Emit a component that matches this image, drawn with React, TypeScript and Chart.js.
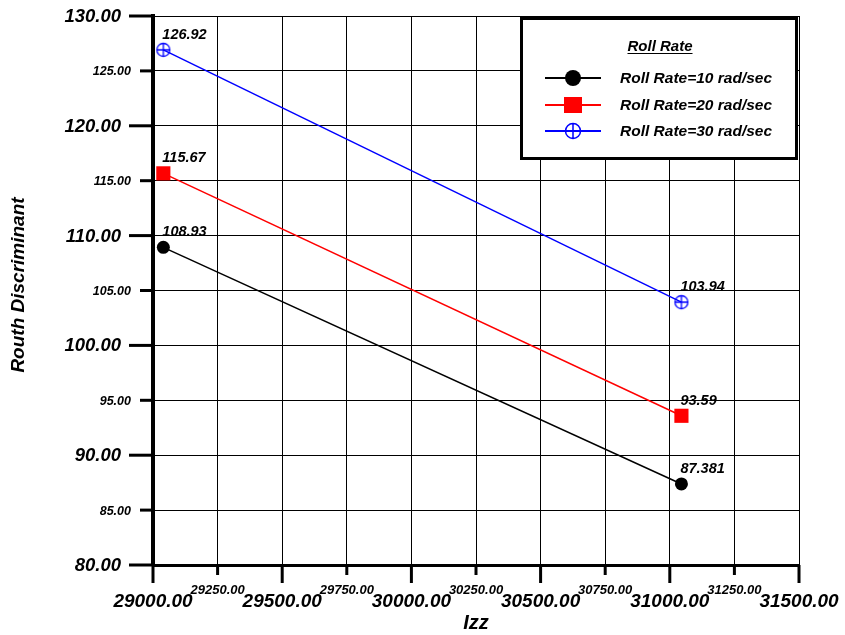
import React, { useEffect, useRef } from "react";
import { Chart, registerables } from "chart.js";
Chart.register(...registerables);

// ---- data ----
const izz = [29040, 31045];
const rollRate10 = [108.93, 87.381];
const rollRate20 = [115.67, 93.59];
const rollRate30 = [126.92, 103.94];
const seriesNames = ["Roll Rate=10 rad/sec", "Roll Rate=20 rad/sec", "Roll Rate=30 rad/sec"];
const seriesColors = ["#000000", "#ff0000", "#0000ff"];
const legendTitle = "Roll Rate";
const xTitle = "Izz";
const yTitle = "Routh Discriminant";
const xMajorTicks = [29000, 29500, 30000, 30500, 31000, 31500];
const xMinorTicks = [29250, 29750, 30250, 30750, 31250];
const yMajorTicks = [80, 90, 100, 110, 120, 130];
const yMinorTicks = [85, 95, 105, 115, 125];

const FAMILY = '"Liberation Sans", Arial, Helvetica, sans-serif';
const bi = (size: number) => `italic bold ${size}px ${FAMILY}`;

function crossCircle(r: number, color: string, lw: number) {
  const s = Math.ceil(2 * r + lw * 2 + 2);
  const c = document.createElement("canvas");
  c.width = s;
  c.height = s;
  const g = c.getContext("2d")!;
  g.strokeStyle = color;
  g.lineWidth = lw;
  g.beginPath();
  g.arc(s / 2, s / 2, r, 0, Math.PI * 2);
  g.stroke();
  g.beginPath();
  g.moveTo(s / 2 - r - 0.5, s / 2);
  g.lineTo(s / 2 + r + 0.5, s / 2);
  g.moveTo(s / 2, s / 2 - r - 0.5);
  g.lineTo(s / 2, s / 2 + r + 0.5);
  g.stroke();
  return c;
}

const fmt = (v: number) => v.toFixed(2);

const axesPlugin = {
  id: "axesDecor",
  afterDraw(chart: any) {
    const ctx = chart.ctx;
    const xs = chart.scales.x;
    const ys = chart.scales.y;
    const area = chart.chartArea;
    ctx.save();
    ctx.strokeStyle = "#000";
    ctx.fillStyle = "#000";
    ctx.lineWidth = 3;
    // x ticks
    xMajorTicks.forEach((v) => {
      const px = xs.getPixelForValue(v);
      ctx.beginPath();
      ctx.moveTo(px, area.bottom);
      ctx.lineTo(px, area.bottom + 18);
      ctx.stroke();
      ctx.font = bi(19);
      ctx.textAlign = "center";
      ctx.textBaseline = "middle";
      ctx.fillText(fmt(v), px, area.bottom + 37);
    });
    xMinorTicks.forEach((v) => {
      const px = xs.getPixelForValue(v);
      ctx.beginPath();
      ctx.moveTo(px, area.bottom);
      ctx.lineTo(px, area.bottom + 10);
      ctx.stroke();
      ctx.font = bi(13);
      ctx.textAlign = "center";
      ctx.textBaseline = "middle";
      ctx.fillText(fmt(v), px, area.bottom + 25);
    });
    // y ticks
    yMajorTicks.forEach((v) => {
      const py = ys.getPixelForValue(v);
      ctx.beginPath();
      ctx.moveTo(area.left - 24, py);
      ctx.lineTo(area.left, py);
      ctx.stroke();
      ctx.font = bi(18.5);
      ctx.textAlign = "right";
      ctx.textBaseline = "middle";
      ctx.fillText(fmt(v), area.left - 32, py + 1);
    });
    yMinorTicks.forEach((v) => {
      const py = ys.getPixelForValue(v);
      ctx.beginPath();
      ctx.moveTo(area.left - 13, py);
      ctx.lineTo(area.left, py);
      ctx.stroke();
      ctx.font = bi(12.5);
      ctx.textAlign = "right";
      ctx.textBaseline = "middle";
      ctx.fillText(fmt(v), area.left - 22, py + 1);
    });
    // axis titles
    ctx.font = bi(20);
    ctx.textAlign = "center";
    ctx.textBaseline = "middle";
    ctx.fillText(xTitle, (area.left + area.right) / 2, 623);
    ctx.save();
    ctx.translate(19, 285);
    ctx.rotate(-Math.PI / 2);
    ctx.font = bi(19);
    ctx.fillText(yTitle, 0, 0);
    ctx.restore();

    // legend
    const L = 521.5, T = 18.5, W = 275, H = 140;
    ctx.fillStyle = "#fff";
    ctx.fillRect(L, T, W, H);
    ctx.lineWidth = 3;
    ctx.strokeStyle = "#000";
    ctx.strokeRect(L, T, W, H);
    ctx.fillStyle = "#000";
    ctx.font = bi(15);
    ctx.textAlign = "center";
    ctx.textBaseline = "alphabetic";
    ctx.fillText(legendTitle, 660, 51);
    const tw = ctx.measureText(legendTitle).width;
    ctx.lineWidth = 1.2;
    ctx.beginPath();
    ctx.moveTo(660 - tw / 2, 53.5);
    ctx.lineTo(660 + tw / 2, 53.5);
    ctx.stroke();
    const rows = [78, 105, 131];
    rows.forEach((ry, i) => {
      const col = seriesColors[i];
      ctx.strokeStyle = col;
      ctx.fillStyle = col;
      ctx.lineWidth = 2;
      ctx.beginPath();
      ctx.moveTo(545, ry);
      ctx.lineTo(601, ry);
      ctx.stroke();
      if (i === 0) {
        ctx.beginPath();
        ctx.arc(573, ry, 8, 0, Math.PI * 2);
        ctx.fill();
      } else if (i === 1) {
        ctx.fillRect(573 - 9, ry - 8, 18, 16);
      } else {
        ctx.lineWidth = 1.5;
        ctx.beginPath();
        ctx.arc(573, ry, 7.5, 0, Math.PI * 2);
        ctx.moveTo(565, ry);
        ctx.lineTo(581, ry);
        ctx.moveTo(573, ry - 8);
        ctx.lineTo(573, ry + 8);
        ctx.stroke();
      }
      ctx.fillStyle = "#000";
      ctx.font = bi(15.5);
      ctx.textAlign = "left";
      ctx.textBaseline = "middle";
      ctx.fillText(seriesNames[i], 620, ry + 1);
    });
    ctx.restore();
  },
  afterDatasetsDraw(chart: any) {
    const ctx = chart.ctx;
    ctx.save();
    ctx.fillStyle = "#000";
    ctx.font = bi(14.5);
    ctx.textAlign = "left";
    ctx.textBaseline = "alphabetic";
    chart.data.datasets.forEach((ds: any, di: number) => {
      const meta = chart.getDatasetMeta(di);
      meta.data.forEach((el: any, i: number) => {
        ctx.fillText(String(ds.data[i].y), el.x - 1, el.y - 11);
      });
    });
    ctx.restore();
  },
};

export default function App() {
  const ref = useRef<HTMLCanvasElement>(null);
  useEffect(() => {
    if (!ref.current) return;
    const toPts = (ys: number[]) => ys.map((y, i) => ({ x: izz[i], y }));
    const allX = [...xMajorTicks, ...xMinorTicks].sort((a, b) => a - b);
    const allY = [...yMajorTicks, ...yMinorTicks].sort((a, b) => a - b);
    const chart = new Chart(ref.current, {
      type: "line",
      data: {
        datasets: [
          {
            label: seriesNames[0],
            data: toPts(rollRate10),
            borderColor: seriesColors[0],
            backgroundColor: seriesColors[0],
            borderWidth: 1.5,
            pointStyle: "circle",
            pointRadius: 6.5,
            pointBorderWidth: 0,
          },
          {
            label: seriesNames[1],
            data: toPts(rollRate20),
            borderColor: seriesColors[1],
            backgroundColor: seriesColors[1],
            borderWidth: 1.5,
            pointStyle: "rect",
            pointRadius: 10,
            pointBorderWidth: 0,
          },
          {
            label: seriesNames[2],
            data: toPts(rollRate30),
            borderColor: seriesColors[2],
            backgroundColor: seriesColors[2],
            borderWidth: 1.5,
            pointStyle: crossCircle(6.5, seriesColors[2], 1.3) as any,
            pointRadius: 7,
          },
        ],
      },
      options: {
        animation: false,
        responsive: true,
        maintainAspectRatio: false,
        layout: { padding: { top: 16, right: 46, left: 0, bottom: 0 } },
        plugins: { legend: { display: false }, tooltip: { enabled: false } },
        scales: {
          x: {
            type: "linear",
            min: 29000,
            max: 31500,
            afterBuildTicks: (s: any) => {
              s.ticks = allX.map((v) => ({ value: v }));
            },
            afterFit: (s: any) => {
              s.height = 70;
            },
            ticks: { display: false },
            grid: { color: "#000", lineWidth: 1, drawTicks: false },
            border: { color: "#000", width: 3 },
          },
          y: {
            type: "linear",
            min: 80,
            max: 130,
            afterBuildTicks: (s: any) => {
              s.ticks = allY.map((v) => ({ value: v }));
            },
            afterFit: (s: any) => {
              s.width = 153;
            },
            ticks: { display: false },
            grid: { color: "#000", lineWidth: 1, drawTicks: false },
            border: { color: "#000", width: 4 },
          },
        },
      },
      plugins: [axesPlugin],
    });
    return () => chart.destroy();
  }, []);
  return (
    <div style={{ position: "absolute", left: 0, top: 0, width: 845, height: 635, background: "#fff" }}>
      <canvas ref={ref} />
    </div>
  );
}
